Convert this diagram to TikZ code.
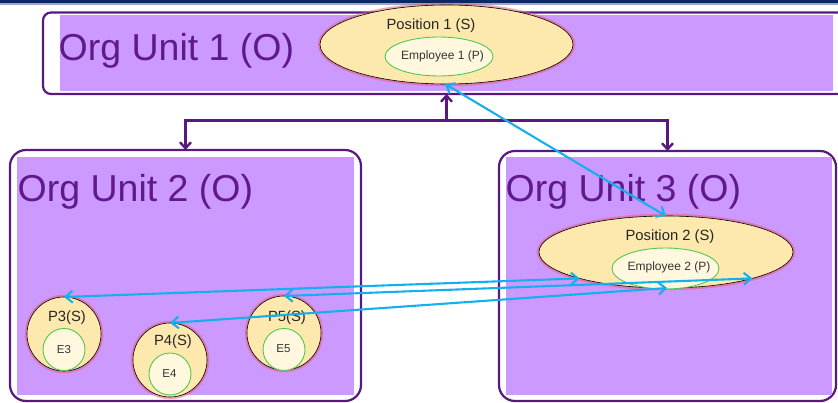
\documentclass[tikz,border=0pt]{standalone}
\usepackage{fontspec}
\setmainfont{Liberation Sans}
\usetikzlibrary{arrows.meta,shapes.geometric,calc}
\definecolor{ofill}{RGB}{204,153,255}
\definecolor{oline}{RGB}{88,24,128}
\definecolor{otext}{RGB}{95,25,140}
\definecolor{pfill}{RGB}{253,233,174}
\definecolor{efill}{RGB}{255,248,222}
\definecolor{eline}{RGB}{80,200,80}
\definecolor{blu}{RGB}{20,176,238}
\definecolor{navy}{RGB}{10,40,100}
\definecolor{glow}{RGB}{230,90,110}
\begin{document}
\begin{tikzpicture}[x=1pt,y=-1pt,
  orgbox/.style={draw=oline, line width=2.2pt, inner sep=0, outer sep=0},
  orgtxt/.style={anchor=base west, inner sep=0, text=otext, font=\fontsize{37.5}{40}\selectfont},
  posshape/.style={draw=black, line width=0.6pt, fill=pfill, inner sep=0, outer sep=0,
    preaction={draw=glow, draw opacity=0.5, line width=4.5pt}},
  empshape/.style={draw=eline, line width=0.9pt, fill=efill, inner sep=0, outer sep=0},
  poslab/.style={inner sep=0, text=black!85, font=\fontsize{14.8}{16}\selectfont},
  emplab/.style={inner sep=0, text=black!80, font=\fontsize{12}{13}\selectfont},
  elab/.style={inner sep=0, text=black!80, font=\fontsize{11.5}{12}\selectfont},
  tree/.style={draw=oline, line width=2.4pt},
  treetip/.style={-{Straight Barb[length=6pt,width=11pt]}},
  barrow/.style={draw=blu, line width=2.1pt, {Straight Barb[length=7pt,width=12pt]}-{Straight Barb[length=7pt,width=12pt]}}
]
\useasboundingbox (0,0) rectangle (838,403);
\clip (0,0) rectangle (838,403);
% top bar
\fill[navy] (0,0) rectangle (838,3.5);
\fill[navy!40] (0,3.5) rectangle (838,5);

% org unit boxes
\node[orgbox, rounded corners=8pt, minimum width=805pt, minimum height=81.5pt] (org1) at (445.5,53.25) {};
\fill[ofill] (60,15.5) rectangle (833,91);
\node[orgbox, rounded corners=16pt, minimum width=351pt, minimum height=251pt] (org2) at (185.5,275.5) {};
\fill[ofill] (17,157) rectangle (354,395);
\node[orgbox, rounded corners=16pt, minimum width=337pt, minimum height=250pt] (org3) at (667.5,276) {};
\fill[ofill] (506,157) rectangle (832,395);

\node[orgtxt] (t1) at (58.5,61) {Org Unit 1 (O)};
\node[orgtxt] (t2) at (17.5,202) {Org Unit 2 (O)};
\node[orgtxt] (t3) at (505.5,202) {Org Unit 3 (O)};

% tree connectors
\coordinate (j) at (446.5,120.5);
\draw[tree,treetip] (j) -- (j |- org1.south);
\draw[tree,treetip] (j) -| (org2.north);
\draw[tree,treetip] (j) -| (org3.north);

% position 1
\node[posshape, ellipse, minimum width=253pt, minimum height=79pt] (pos1) at (446.5,44.5) {};
\node[poslab] (pos1t) at (431,25.5) {Position 1 (S)};
\node[empshape, ellipse, minimum width=108pt, minimum height=39pt] (emp1) at (439,56.5) {};
\node[emplab] (emp1t) at (442.5,56) {Employee 1 (P)};

% position 2
\node[posshape, ellipse, minimum width=254pt, minimum height=72pt] (pos2) at (666,252) {};
\node[poslab] (pos2t) at (670,236.5) {Position 2 (S)};
\node[empshape, ellipse, minimum width=107pt, minimum height=41pt] (emp2) at (665.5,268.5) {};
\node[emplab] (emp2t) at (669,267) {Employee 2 (P)};

% small positions
\node[posshape, circle, minimum size=74pt] (p3) at (64,334) {};
\node[empshape, circle, minimum size=42pt] (e3) at (64,349.5) {};
\node[poslab] (p3t) at (67,318) {P3(S)};
\node[elab] (e3t) at (64,349.5) {E3};

\node[posshape, circle, minimum size=74pt] (p4) at (170,360) {};
\node[empshape, circle, minimum size=42pt] (e4) at (170,374) {};
\node[poslab] (p4t) at (173,342) {P4(S)};
\node[elab] (e4t) at (169.5,373.5) {E4};

\node[posshape, circle, minimum size=74pt] (p5) at (284,333) {};
\node[empshape, circle, minimum size=42pt] (e5) at (284,349.5) {};
\node[poslab] (p5t) at (287,318) {P5(S)};
\node[elab] (e5t) at (283.5,348.5) {E5};

% blue relations
\draw[barrow] (pos1.268) -- (pos2.north);
\draw[barrow] (p3.north) -- (pos2.197);
\draw[barrow] (p5.north) -- (pos2.343);
\draw[barrow] (p4.north) -- (pos2.272);
\end{tikzpicture}
\end{document}
